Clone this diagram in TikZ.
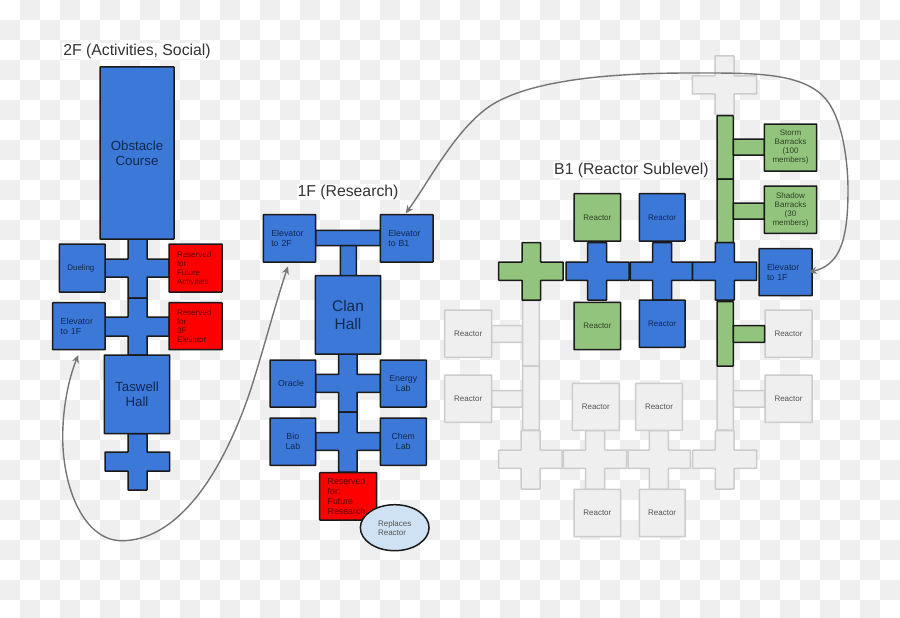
\documentclass[tikz,border=0pt]{standalone}
\usepackage{fontspec}
\setmainfont{Liberation Sans}
\usetikzlibrary{arrows.meta,shapes.geometric}
\definecolor{rmblue}{HTML}{3C78D8}
\definecolor{rmgreen}{HTML}{93C47D}
\definecolor{rmred}{HTML}{FF0000}
\definecolor{rmgrey}{HTML}{EFEFEF}
\definecolor{rmgreyline}{HTML}{CCCCCC}
\definecolor{rmoval}{HTML}{CFE2F3}
\definecolor{rmline}{HTML}{1A1A1A}
\definecolor{rmarrow}{HTML}{757575}
\definecolor{txtblue}{HTML}{12294F}
\definecolor{txtred}{HTML}{5A0505}
\definecolor{txtgreen}{HTML}{2E4326}
\definecolor{txtgrey}{HTML}{555555}
\tikzset{
  base/.style={draw=rmline,line width=1.5pt,rounded corners=0.5pt},
  bluepart/.style={base,fill=rmblue},
  greenpart/.style={base,fill=rmgreen},
  greypart/.style={draw=rmgreyline,line width=1.5pt,fill=rmgrey,rounded corners=0.5pt},
  bluebox/.style={bluepart,text=txtblue},
  redbox/.style={base,fill=rmred,text=txtred},
  greenbox/.style={greenpart,text=txtgreen},
  greybox/.style={greypart,text=txtgrey},
  fsmall/.style={font=\fontsize{8}{9}\selectfont},
  fmid/.style={font=\fontsize{8.8}{10.3}\selectfont},
  fbig/.style={font=\fontsize{13.3}{15.3}\selectfont},
  fhuge/.style={font=\fontsize{15.4}{17.7}\selectfont},
  title/.style={fill=white,inner sep=1pt,text=black!80,font=\fontsize{15.8}{18}\selectfont},
  link/.style={draw=rmarrow,line width=1.4pt,{Stealth[length=8pt,width=7pt]}-{Stealth[length=8pt,width=7pt]}},
}
\newcommand{\myroom}[7]{%
  \pgfmathsetmacro\rw{#4-#2}\pgfmathsetmacro\rh{#5-#3}%
  \node[#6,align=center,inner sep=0pt,minimum width=\rw pt,minimum height=\rh pt] (#1) at ({(#2+#4)/2},{(#3+#5)/2}) {#7};}
\newcommand{\myroomL}[7]{%
  \pgfmathsetmacro\rw{#4-#2}\pgfmathsetmacro\rh{#5-#3}\pgfmathsetmacro\tw{\rw-16}%
  \node[#6,align=left,inner ysep=0pt,inner xsep=8pt,text width=\tw pt,minimum height=\rh pt] (#1) at ({(#2+#4)/2},{(#3+#5)/2}) {#7};}
\newcommand{\mycross}[9]{%
  \draw[#1] (#6,#4) -- (#6,#8) -- (#7,#8) -- (#7,#4) -- (#3,#4) -- (#3,#5) -- (#7,#5) -- (#7,#9) -- (#6,#9) -- (#6,#5) -- (#2,#5) -- (#2,#4) -- cycle;}
\newcommand{\mybar}[5]{\draw[#1] (#2,#3) rectangle (#4,#5);}
\begin{document}
\begin{tikzpicture}[x=1pt,y=-1pt]
\useasboundingbox (0,0) rectangle (900,618);
\begin{scope}
\clip (0,0) rectangle (900,618);
\fill[white] (0,0) rectangle (900,618);
\foreach \i in {0,...,44}{\foreach \j in {0,...,30}{
  \pgfmathparse{int(mod(\i+\j,2))}
  \ifnum\pgfmathresult=1
    \fill[rmgrey] (\i*20,\j*20) rectangle ({\i*20+20},{\j*20+20});
  \fi
}}
\end{scope}

% 2F
\node[title] (t2f) at (137,51) {2F (Activities, Social)};
\mycross{bluepart}{105}{169}{259}{277}{128}{147}{239}{298}
\mycross{bluepart}{105}{169}{317}{336}{128}{147}{298}{355}
\mycross{bluepart}{105}{169.7}{452}{471}{128}{147}{433.7}{490}
\myroom{obst}{100}{67}{174}{239}{bluebox,fbig}{Obstacle\\Course}
\myroomL{duel}{59.3}{244}{105}{292}{bluebox,fsmall}{Dueling}
\myroomL{resa}{169}{244}{222}{292}{redbox,fsmall}{Reserved\\for\\Future\\Activities}
\myroomL{elevA}{52.7}{302.7}{105}{349.7}{bluebox,fmid}{Elevator\\to 1F}
\myroomL{resb}{169}{302.7}{222}{349.7}{redbox,fsmall}{Reserved\\for\\3F\\Elevator}
\myroom{tas}{104.3}{355}{169.7}{433.7}{bluebox,fbig}{Taswell\\Hall}

% 1F
\node[title] (t1f) at (348,192) {1F (Research)};
\mybar{bluepart}{315.7}{230.3}{380.3}{245.7}
\mybar{bluepart}{340.3}{245.7}{356.3}{278}
\mycross{bluepart}{315.7}{380.3}{374.3}{392.3}{338.7}{357}{354}{412}
\mycross{bluepart}{315.7}{380.3}{432.7}{450.3}{338.7}{357}{412}{472}
\myroomL{elevB}{263.3}{214.7}{315.7}{262}{bluebox,fmid}{Elevator\\to 2F}
\myroomL{elevC}{380.3}{214.7}{433}{262}{bluebox,fmid}{Elevator\\to B1}
\myroom{clan}{315.3}{275.7}{380.7}{354}{bluebox,fhuge}{Clan\\Hall}
\myroomL{orac}{270}{360}{315.7}{407}{bluebox,fmid}{Oracle}
\myroom{energy}{380.3}{360}{426.3}{407}{bluebox,fmid}{Energy\\Lab}
\myroom{bio}{270}{418}{315.7}{465.3}{bluebox,fmid}{Bio\\Lab}
\myroom{chem}{380.3}{418}{426.3}{465.3}{bluebox,fmid}{Chem\\Lab}
\myroomL{resc}{319.7}{472.7}{376.7}{520}{redbox,fmid}{Reserved\\for:\\Future\\Research}
\node[draw=rmline,line width=1.5pt,fill=rmoval,ellipse,inner sep=0pt,minimum width=68.7pt,minimum height=46pt,align=left,text=txtgrey,fsmall] (oval) at (394.7,527.7) {Replaces\\Reactor};

% B1 grey parts
\mycross{greypart}{692.3}{756.7}{76}{94}{715}{734}{56}{114.7}
\mybar{greypart}{491.7}{325.7}{522.3}{342.3}
\mybar{greypart}{491.7}{390.7}{522.3}{407}
\mybar{greypart}{522.7}{300.7}{539.3}{366}
\mybar{greypart}{522.7}{366}{539.3}{430}
\mybar{greypart}{717}{366}{733.3}{430}
\mybar{greypart}{733.3}{390.7}{764.7}{407}
\mycross{greypart}{498.7}{562}{450}{468.3}{521}{540}{430.7}{489}
\mycross{greypart}{563.3}{626.7}{450}{468.3}{585.7}{604.7}{430.7}{489.3}
\mycross{greypart}{628}{690.3}{450}{468.3}{649.3}{668.3}{430.7}{489.3}
\mycross{greypart}{692.7}{756.7}{450}{468.3}{715.3}{734}{430.7}{489}
\myroom{gr1}{444.7}{310}{491.7}{357.3}{greybox,fsmall}{Reactor}
\myroom{gr2}{444.7}{375}{491.7}{422.3}{greybox,fsmall}{Reactor}
\myroom{gr3}{765}{310}{812}{357.3}{greybox,fsmall}{Reactor}
\myroom{gr4}{765}{375}{812}{422.3}{greybox,fsmall}{Reactor}
\myroom{gr5}{572.3}{383.3}{619.3}{430.3}{greybox,fsmall}{Reactor}
\myroom{gr6}{635.7}{383.3}{682.3}{430.3}{greybox,fsmall}{Reactor}
\myroom{gr7}{574}{489.3}{620.7}{536.7}{greybox,fsmall}{Reactor}
\myroom{gr8}{639.3}{489.3}{685}{536.7}{greybox,fsmall}{Reactor}

% B1 green and blue parts
\node[title] (tb1) at (631.5,170) {B1 (Reactor Sublevel)};
\mybar{greenpart}{717}{115.7}{733.3}{179}
\mybar{greenpart}{717}{179}{733.3}{242.7}
\mybar{greenpart}{733.3}{139}{764.3}{155}
\mybar{greenpart}{733.3}{203}{764.3}{219}
\mybar{greenpart}{717}{301.7}{733.3}{366}
\mybar{greenpart}{733.3}{325.7}{764.7}{342.3}
\mycross{greenpart}{498.7}{563}{262}{280.3}{522}{540.7}{242.7}{300}
\mycross{bluepart}{566}{629}{262}{280.3}{587.7}{606.7}{242.7}{300}
\mycross{bluepart}{630.3}{692.3}{262}{280.3}{652.7}{671.7}{242.7}{300}
\mycross{bluepart}{692.7}{756.7}{262}{280.3}{715.3}{734.3}{242.7}{300}
\myroom{storm}{764.3}{124}{816.7}{171}{greenbox,fsmall}{Storm\\Barracks\\(100\\members)}
\myroom{shadow}{764.3}{186}{816.7}{233.3}{greenbox,fsmall}{Shadow\\Barracks\\(30\\members)}
\myroomL{elevD}{759}{248.7}{812}{295.7}{bluebox,fmid}{Elevator\\to 1F}
\myroom{rg1}{574}{193.7}{620.7}{241}{greenbox,fsmall}{Reactor}
\myroom{rb1}{639.3}{193.7}{685}{241}{bluebox,fsmall}{Reactor}
\myroom{rg2}{574}{302.3}{620.7}{349.7}{greenbox,fsmall}{Reactor}
\myroom{rb2}{639.3}{300}{685}{347.3}{bluebox,fsmall}{Reactor}

% links
\coordinate (tipA) at ([xshift=-0.5pt,yshift=-4.5pt]elevA.south);
\coordinate (tipB) at ([xshift=-1.5pt,yshift=-3.5pt]elevB.south);
\coordinate (tipC) at ([xshift=-1pt,yshift=0.5pt]elevC.north);
\coordinate (tipD) at ([xshift=-4pt]elevD.east);
\draw[link] (tipA) .. controls (68,380) and (62.7,410) .. (62.7,436.7)
  .. controls (62.7,490) and (85,540.7) .. (121.7,540.7)
  .. controls (175,540.7) and (220,480) .. (250,391.7)
  .. controls (262,355) and (275,305) .. (tipB);
\draw[link] (tipC) .. controls (430,180) and (455,130) .. (490,106)
  .. controls (530,80) and (610,73) .. (690,73)
  .. controls (750,73) and (797,72) .. (822,95)
  .. controls (842,113.4) and (848,160) .. (848,190)
  .. controls (848,240) and (840,265) .. (tipD);
\end{tikzpicture}
\end{document}
